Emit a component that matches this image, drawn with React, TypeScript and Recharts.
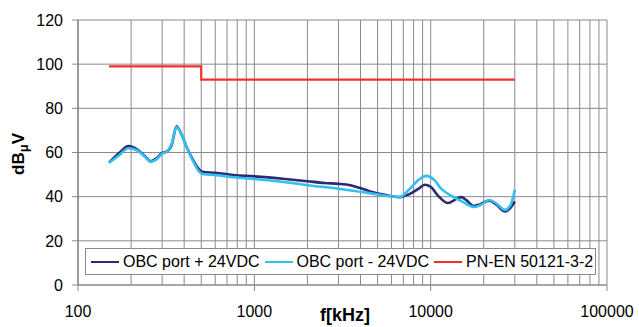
import React from 'react';
import { LineChart, Line, XAxis, YAxis, CartesianGrid } from 'recharts';

// OBC port + 24VDC (dark navy)
const freqPlus = [150, 170, 193, 215, 240, 258, 280, 300, 320, 340, 362, 390, 413, 450, 491, 508, 600, 760, 1000, 1500, 2000, 2500, 3000, 3500, 4500, 5500, 6670, 7500, 8500, 9250, 10000, 11000, 12540, 14000, 14930, 16000, 17500, 19000, 21500, 23500, 26400, 28000, 30000];
const dbPlus = [55.4, 59.5, 62.9, 61.5, 58.3, 56.0, 57.5, 59.8, 60.5, 63.5, 71.9, 67.5, 62.5, 56.5, 52.0, 51.3, 50.8, 49.8, 49.2, 48.0, 47.0, 46.2, 45.8, 45.2, 42.5, 40.8, 39.8, 41.0, 43.5, 45.4, 44.5, 40.5, 37.1, 39.0, 39.8, 38.3, 35.8, 36.5, 38.2, 36.5, 33.3, 34.5, 37.8];

// OBC port - 24VDC (cyan)
const freqMinus = [150, 170, 193, 215, 240, 258, 280, 300, 320, 340, 362, 390, 413, 450, 491, 508, 600, 760, 1000, 1500, 2000, 3000, 4500, 5500, 6670, 7500, 8500, 9460, 10500, 11500, 12830, 14930, 17740, 19500, 21500, 23500, 26400, 28500, 30000];
const dbMinus = [55.4, 58.5, 61.9, 61.0, 58.0, 55.8, 57.0, 59.5, 60.5, 64.0, 71.5, 67.5, 62.5, 56.0, 51.0, 50.3, 49.8, 48.8, 48.0, 46.5, 45.2, 43.6, 41.6, 40.5, 39.8, 43.0, 47.5, 49.4, 47.5, 43.5, 40.8, 38.0, 35.3, 36.5, 38.5, 37.0, 34.0, 36.5, 43.1];

// PN-EN 50121-3-2 limit (red)
const freqLimit = [150, 500, 500, 30000];
const dbLimit = [99, 99, 93, 93];

const xTicks = [100, 200, 300, 400, 500, 600, 700, 800, 900, 1000, 2000, 3000, 4000, 5000, 6000, 7000, 8000, 9000, 10000, 20000, 30000, 40000, 50000, 60000, 70000, 80000, 90000, 100000];
const xLabels = [100, 1000, 10000, 100000];
const yTicks = [0, 20, 40, 60, 80, 100, 120];

const seriesNames = ['OBC port + 24VDC', 'OBC port - 24VDC', 'PN-EN 50121-3-2'];
const colors = ['#2b2a72', '#33bff0', '#f4302c'];

const plusData = freqPlus.map((f, i) => ({ f, v: dbPlus[i] }));
const minusData = freqMinus.map((f, i) => ({ f, v: dbMinus[i] }));
const limitData = freqLimit.map((f, i) => ({ f, v: dbLimit[i] }));

const FONT = '"Liberation Sans", Arial, sans-serif';
const GRID = '#8a8a8a';

const XTick = (props: any) => {
  const { x, y, payload } = props;
  const isMajor = xLabels.includes(payload.value);
  if (!isMajor) return null;
  return (
    <g>
      <line x1={x} x2={x} y1={y} y2={y + 6} stroke={GRID} strokeWidth={1} />
      <text x={x} y={y + 32} textAnchor="middle" fontSize={16} fill="#000" fontFamily={FONT}>
        {payload.value}
      </text>
    </g>
  );
};

const XLabel = () => (
  <text x={345} y={321} textAnchor="middle" fontSize={18} fontWeight="bold" fill="#000" fontFamily={FONT}>
    f[kHz]
  </text>
);

const YLabel = () => (
  <text
    x={24}
    y={154}
    textAnchor="middle"
    fontSize={17}
    fontWeight="bold"
    fill="#000"
    fontFamily={FONT}
    transform="rotate(-90, 24, 154)"
  >
    dB
    <tspan fontSize={13} dy={4}>μ</tspan>
    <tspan dy={-4}>V</tspan>
  </text>
);

export default function App() {
  return (
    <div style={{ position: 'absolute', left: 0, top: 0, width: 639, height: 327, background: '#fff' }}>
      <LineChart
        width={639}
        height={327}
        margin={{ top: 20, right: 32, left: 0, bottom: 0 }}
        style={{ fontFamily: FONT }}
      >
        <CartesianGrid stroke={GRID} strokeWidth={1} />
        <XAxis
          dataKey="f"
          type="number"
          scale="log"
          domain={[100, 100000]}
          allowDataOverflow
          ticks={xTicks}
          interval={0}
          tickSize={0}
          tickMargin={0}
          tickLine={false}
          tick={<XTick />}
          axisLine={{ stroke: GRID }}
          height={42}
          label={<XLabel />}
        />
        <YAxis
          type="number"
          domain={[0, 120]}
          ticks={yTicks}
          interval={0}
          width={78}
          tickSize={6}
          tickMargin={9}
          tickLine={{ stroke: GRID }}
          axisLine={{ stroke: '#707070' }}
          tick={{ fontSize: 16, fill: '#000', fontFamily: FONT }}
          label={<YLabel />}
        />
        <Line data={plusData} dataKey="v" type="monotone" stroke={colors[0]} strokeWidth={2.6} dot={false} isAnimationActive={false} />
        <Line data={minusData} dataKey="v" type="monotone" stroke={colors[1]} strokeWidth={2.6} dot={false} isAnimationActive={false} />
        <Line data={limitData} dataKey="v" type="linear" stroke={colors[2]} strokeWidth={2.2} dot={false} isAnimationActive={false} />
      </LineChart>
      <div
        style={{
          position: 'absolute',
          left: 85,
          top: 248,
          width: 511,
          height: 27,
          boxSizing: 'border-box',
          border: '1px solid #8a8a8a',
          background: '#fff',
          display: 'flex',
          alignItems: 'center',
          paddingLeft: 5,
          fontFamily: FONT,
          fontSize: 16,
          color: '#000',
          whiteSpace: 'nowrap',
        }}
      >
        {seriesNames.map((name, i) => (
          <div key={name} style={{ display: 'flex', alignItems: 'center', marginLeft: i === 0 ? 0 : 5 }}>
            <div style={{ width: 28, height: 2, background: colors[i], marginRight: 4 }} />
            <span>{name}</span>
          </div>
        ))}
      </div>
    </div>
  );
}
